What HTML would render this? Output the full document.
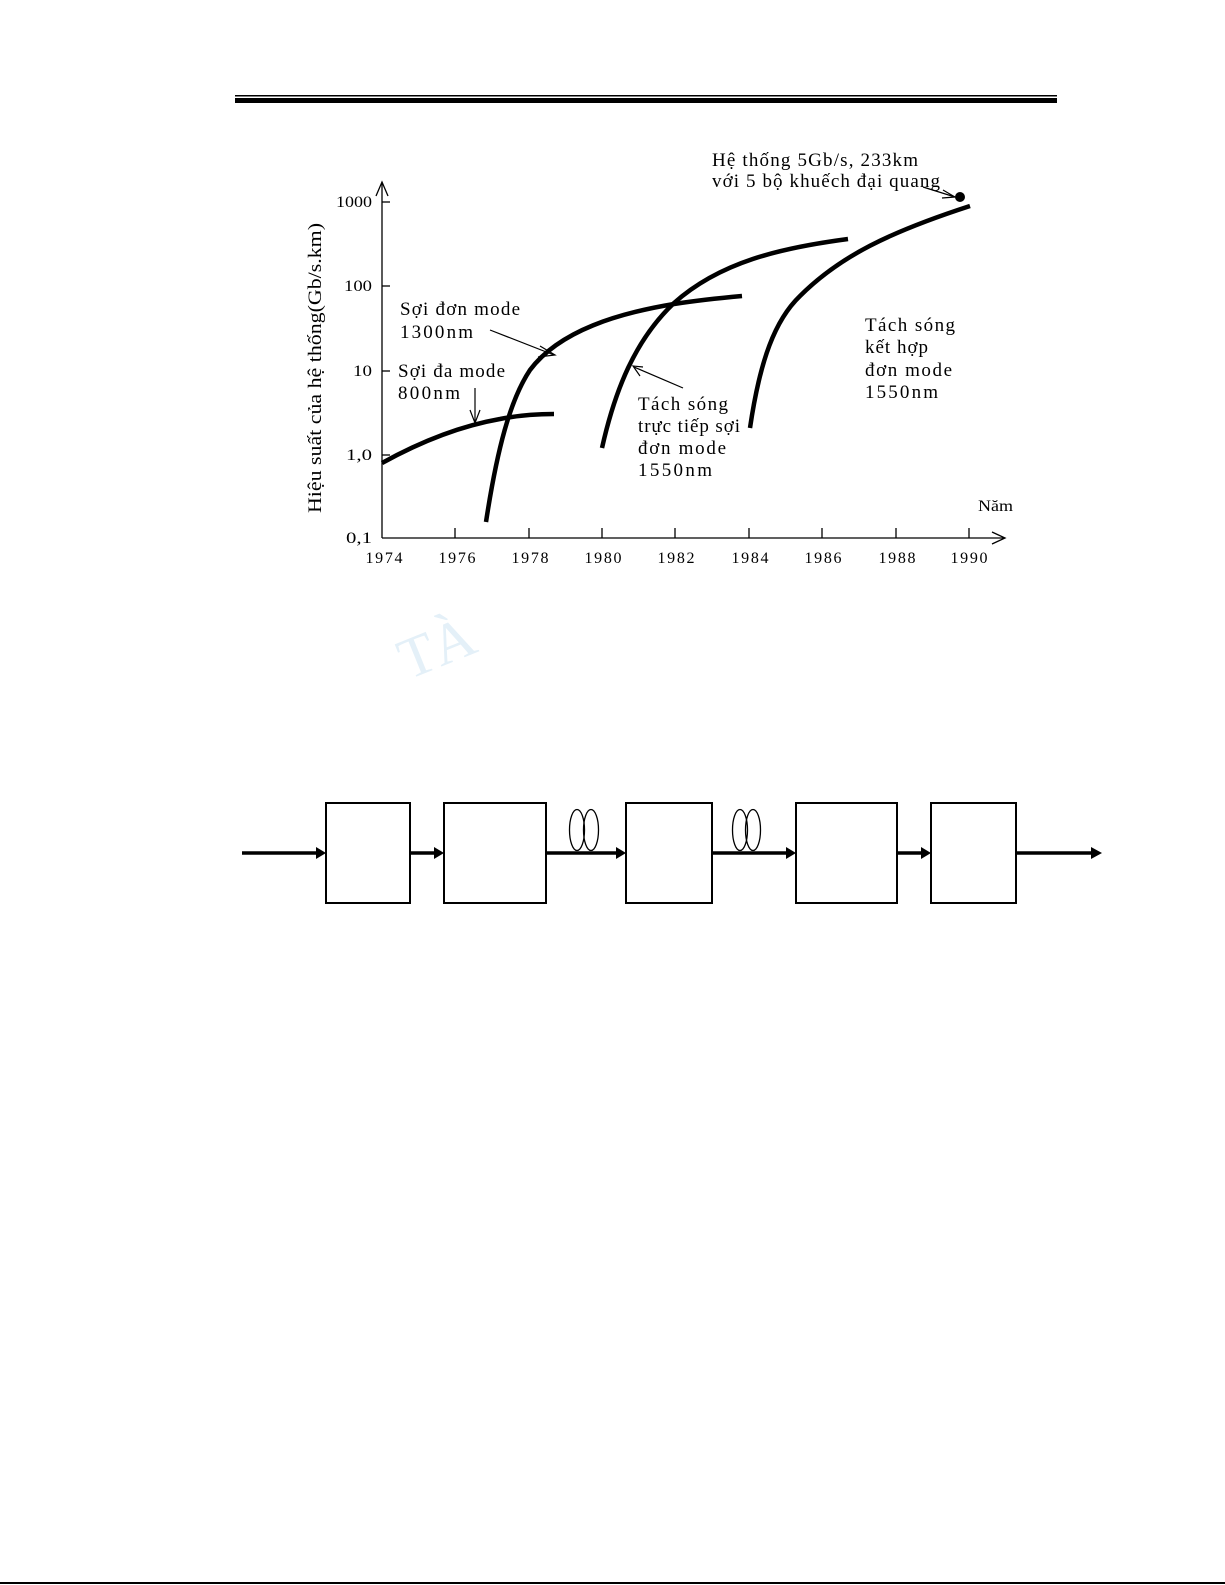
<!DOCTYPE html>
<html><head><meta charset="utf-8"><style>
html,body{margin:0;padding:0;background:#fff;}
svg{display:block;}
text{font-family:"Liberation Serif",serif;fill:#000;}
</style></head><body>
<svg width="1225" height="1585" viewBox="0 0 1225 1585" xmlns="http://www.w3.org/2000/svg">
<rect x="235" y="95" width="822" height="1.5" fill="#000"/>
<rect x="235" y="98" width="822" height="5" fill="#000"/>
<rect x="0" y="1582" width="1225" height="2" fill="#000"/>

<g stroke="#000" fill="none" stroke-width="1.3">
<line x1="382" y1="538" x2="382" y2="183"/>
<polyline points="376,196 382,182 388,196"/>
<line x1="382" y1="538" x2="1004" y2="538"/>
<polyline points="992,532 1005,538 992,544"/>
<line x1="382" y1="202" x2="390" y2="202"/><line x1="382" y1="286" x2="390" y2="286"/>
<line x1="382" y1="371" x2="390" y2="371"/><line x1="382" y1="455" x2="390" y2="455"/>
<line x1="455" y1="538" x2="455" y2="528"/><line x1="529" y1="538" x2="529" y2="528"/>
<line x1="602" y1="538" x2="602" y2="528"/><line x1="675" y1="538" x2="675" y2="528"/>
<line x1="749" y1="538" x2="749" y2="528"/><line x1="822" y1="538" x2="822" y2="528"/>
<line x1="896" y1="538" x2="896" y2="528"/><line x1="969" y1="538" x2="969" y2="528"/>
</g>
<g font-size="16" text-anchor="end">
<text x="372" y="207" textLength="36" lengthAdjust="spacingAndGlyphs">1000</text><text x="372" y="291" textLength="28" lengthAdjust="spacingAndGlyphs">100</text>
<text x="372" y="376" textLength="19" lengthAdjust="spacingAndGlyphs">10</text><text x="372" y="460" textLength="26" lengthAdjust="spacingAndGlyphs">1,0</text><text x="372" y="543" textLength="26" lengthAdjust="spacingAndGlyphs">0,1</text>
</g>
<g font-size="16" text-anchor="middle" lengthAdjust="spacingAndGlyphs">
<text x="384" y="563" textLength="37">1974</text><text x="457" y="563" textLength="37">1976</text><text x="530" y="563" textLength="37">1978</text>
<text x="603" y="563" textLength="37">1980</text><text x="676" y="563" textLength="37">1982</text><text x="750" y="563" textLength="37">1984</text>
<text x="823" y="563" textLength="37">1986</text><text x="897" y="563" textLength="37">1988</text><text x="969" y="563" textLength="37">1990</text>
</g>
<text x="978" y="511" font-size="16" textLength="35" lengthAdjust="spacingAndGlyphs">Năm</text>
<text transform="translate(321,368) rotate(-90)" font-size="19" text-anchor="middle" textLength="290" lengthAdjust="spacingAndGlyphs">Hiệu suất của hệ thống(Gb/s.km)</text>

<g stroke="#000" fill="none" stroke-width="4.5" stroke-linecap="butt">
<path d="M382,463 C420,442 460,426 500,419 C520,415 540,414 554,414"/>
<path d="M486,522 C497,450 510,400 530,370 C560,330 620,313 674,304 C700,300 720,298 742,296"/>
<path d="M602,448 C615,390 635,340 674,303 C720,262 780,248 848,239"/>
<path d="M750,428 C760,360 775,320 800,296 C840,256 890,232 970,206"/>
</g>
<circle cx="960" cy="197" r="5" fill="#000"/>

<g stroke="#000" fill="none" stroke-width="1.2">
<line x1="490" y1="330" x2="554" y2="355"/><polyline points="540,346 555,355 538,357"/>
<line x1="475" y1="388" x2="475" y2="422"/><polyline points="470,410 475,423 480,410"/>
<line x1="683" y1="388" x2="634" y2="367"/><polyline points="643,367 633,366 640,376"/>
<line x1="923" y1="187" x2="955" y2="197"/><polyline points="943,190 955,197 942,198"/>
</g>

<g font-size="19" lengthAdjust="spacingAndGlyphs">
<text x="712" y="166" textLength="206">Hệ thống 5Gb/s, 233km</text>
<text x="712" y="187" textLength="228">với 5 bộ khuếch đại quang</text>
<text x="400" y="315" textLength="120">Sợi đơn mode</text>
<text x="400" y="338" textLength="73">1300nm</text>
<text x="398" y="377" textLength="107">Sợi đa mode</text>
<text x="398" y="399" textLength="62">800nm</text>
<text x="638" y="410" textLength="90">Tách sóng</text>
<text x="638" y="432" textLength="102">trực tiếp sợi</text>
<text x="638" y="454" textLength="88">đơn mode</text>
<text x="638" y="476" textLength="74">1550nm</text>
<text x="865" y="331" textLength="90">Tách sóng</text>
<text x="865" y="353" textLength="63">kết hợp</text>
<text x="865" y="376" textLength="87">đơn mode</text>
<text x="865" y="398" textLength="73">1550nm</text>
</g>

<text transform="translate(408,680) rotate(-22)" font-family="Liberation Sans,sans-serif" font-size="58" style="fill:#e4f0f8">TÀ</text>

<g stroke="#000" fill="none" stroke-width="2">
<rect x="326" y="803" width="84" height="100"/>
<rect x="444" y="803" width="102" height="100"/>
<rect x="626" y="803" width="86" height="100"/>
<rect x="796" y="803" width="101" height="100"/>
<rect x="931" y="803" width="85" height="100"/>
</g>
<g stroke="#000" stroke-width="3.5">
<line x1="242" y1="853" x2="318" y2="853"/>
<line x1="410" y1="853" x2="436" y2="853"/>
<line x1="546" y1="853" x2="618" y2="853"/>
<line x1="712" y1="853" x2="788" y2="853"/>
<line x1="897" y1="853" x2="923" y2="853"/>
<line x1="1016" y1="853" x2="1092" y2="853"/>
</g>
<g fill="#000">
<polygon points="316,847 326,853 316,859"/>
<polygon points="434,847 444,853 434,859"/>
<polygon points="616,847 626,853 616,859"/>
<polygon points="786,847 796,853 786,859"/>
<polygon points="921,847 931,853 921,859"/>
<polygon points="1091,847 1102,853 1091,859"/>
</g>
<g stroke="#000" fill="none" stroke-width="1.3">
<ellipse cx="577" cy="830" rx="7.5" ry="20.5"/><ellipse cx="591" cy="830" rx="7.5" ry="20.5"/>
<ellipse cx="740" cy="830" rx="7.5" ry="20.5"/><ellipse cx="753" cy="830" rx="7.5" ry="20.5"/>
</g>
</svg>
</body></html>
